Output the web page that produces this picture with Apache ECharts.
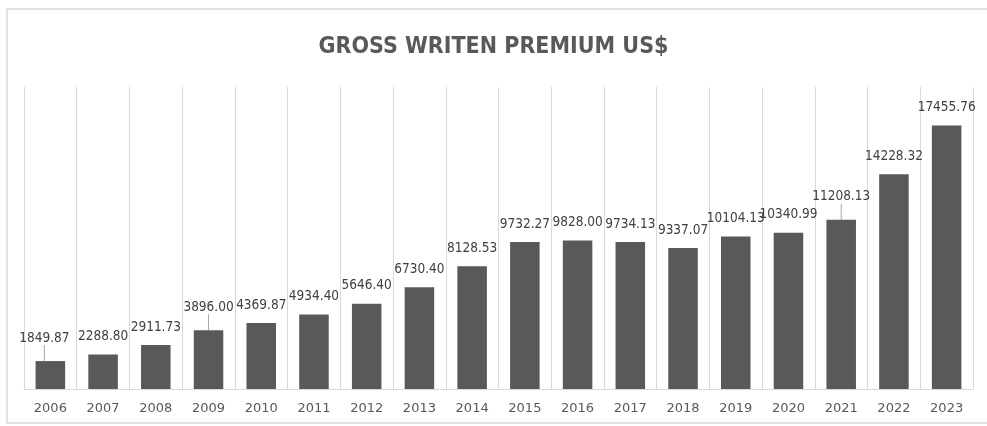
<!DOCTYPE html>
<html><head><meta charset="utf-8">
<script src="https://cdn.jsdelivr.net/npm/echarts@6/dist/echarts.min.js"></script>
<style>html,body{margin:0;padding:0;background:#fff;}#c{width:987px;height:426px;}</style>
</head><body><div id="c"></div>
<script>
const titleText = 'GROSS WRITEN PREMIUM US$';
const years = ['2006','2007','2008','2009','2010','2011','2012','2013','2014','2015','2016','2017','2018','2019','2020','2021','2022','2023'];
const premium = [1849.87,2288.80,2911.73,3896.00,4369.87,4934.40,5646.40,6730.40,8128.53,9732.27,9828.00,9734.13,9337.07,10104.13,10340.99,11208.13,14228.32,17455.76];
const leaderIdx = [0,3,15];

const narrow = "'DejaVu Sans Condensed','Liberation Sans Narrow',Roboto,sans-serif";
const barData = premium.map((v,i)=> leaderIdx.indexOf(i)>=0
  ? {value:v, labelLine:{show:true}} : {value:v});

const chart = echarts.init(document.getElementById('c'), null, {renderer:'canvas'});
chart.setOption({
  animation:false,
  backgroundColor:'#fff',
  graphic:[{type:'rect',shape:{x:7,y:9,width:1000,height:414},style:{fill:'none',stroke:'#d9d9d9',lineWidth:1.5},silent:true,z:-1}],
  title:{text:titleText,left:'center',top:31,textStyle:{fontFamily:narrow,fontWeight:'bold',fontSize:23,color:'#595959'}},
  grid:{left:24,right:14,top:87,bottom:37},
  xAxis:{type:'category',data:years,
    axisLine:{lineStyle:{color:'#d9d9d9',width:1}},axisTick:{show:false},
    splitLine:{show:true,lineStyle:{color:'#d9d9d9',width:1}},
    axisLabel:{color:'#595959',fontFamily:'DejaVu Sans',fontSize:13,margin:13}},
  yAxis:{type:'value',min:0,max:20000,show:false,splitLine:{show:false}},
  series:[{type:'bar',data:barData,barCategoryGap:'44%',
    itemStyle:{color:'#595959'},
    label:{show:true,position:'top',distance:11,color:'#404040',fontFamily:narrow,fontSize:13.5,
      formatter:p=>p.value.toFixed(2)},
    labelLayout:function(p){ if(leaderIdx.indexOf(p.dataIndex)>=0){ return {dy:-5, dx:p.dataIndex===0?-6:0}; } return {}; },
    labelLine:{show:false,lineStyle:{color:'#a6a6a6',width:1},length2:0}
  }]
});
</script></body></html>
